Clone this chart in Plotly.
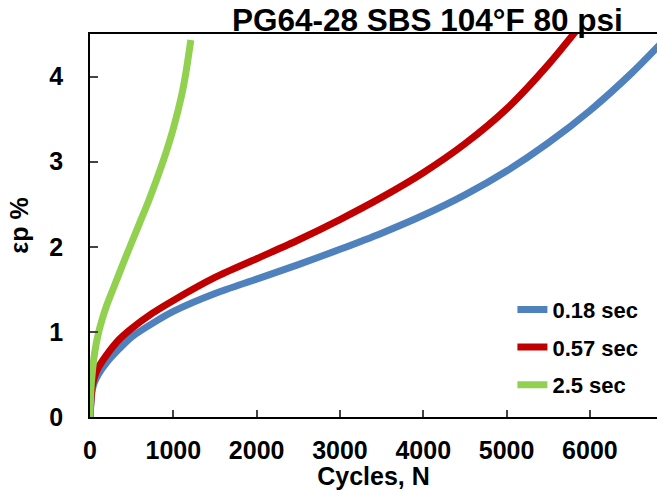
import plotly.graph_objects as go

# ---- data ----
series_names = ["0.18 sec", "0.57 sec", "2.5 sec"]
series_colors = ["#4F81BD", "#C00000", "#92D050"]

cycles_018 = [0, 25, 50, 100, 200, 350, 500, 750, 1000, 1500, 2000, 2500, 3000,
              3500, 4000, 4500, 5000, 5500, 6000, 6500, 7000]
strain_018 = [0, 0.30, 0.40, 0.50, 0.64, 0.80, 0.94, 1.10, 1.24, 1.45, 1.62, 1.79, 1.97,
              2.16, 2.37, 2.61, 2.89, 3.22, 3.60, 4.04, 4.54]

cycles_057 = [0, 25, 50, 100, 200, 350, 500, 750, 1000, 1500, 2000, 2500, 3000,
              3500, 4000, 4500, 5000, 5500, 6000]
strain_057 = [0, 0.35, 0.46, 0.58, 0.73, 0.91, 1.04, 1.22, 1.37, 1.64, 1.86, 2.08, 2.32,
              2.58, 2.87, 3.21, 3.62, 4.14, 4.74]

cycles_25 = [0, 10, 30, 60, 100, 150, 200, 300, 400, 500, 600, 700, 800, 900, 1000, 1100, 1150, 1210]
strain_25 = [0, 0.30, 0.55, 0.78, 0.98, 1.16, 1.31, 1.56, 1.81, 2.05, 2.29, 2.53, 2.79, 3.07, 3.39, 3.78, 4.04, 4.43]

x_ticks = [0, 1000, 2000, 3000, 4000, 5000, 6000]
y_ticks = [0, 1, 2, 3, 4]

title_text = "PG64-28 SBS 104°F 80 psi"
x_title = "Cycles, N"
y_title = "εp %"

FONT = "Liberation Sans, Arial, sans-serif"

fig = go.Figure()
for name, color, xs, ys in zip(series_names, series_colors,
                               [cycles_018, cycles_057, cycles_25],
                               [strain_018, strain_057, strain_25]):
    fig.add_trace(go.Scatter(
        x=xs, y=ys, mode="lines", name=name, legendgroup=name,
        line=dict(color=color, width=7, shape="spline", smoothing=0.8),
    ))

fig.update_layout(
    width=657, height=490,
    margin=dict(l=90, r=0, t=34, b=73),
    paper_bgcolor="white", plot_bgcolor="white",
    font=dict(family=FONT, size=25, color="black", weight="bold"),
    title=dict(text=title_text, x=0.595, xref="paper", xanchor="center",
               y=1 - 20 / 490, yref="container", yanchor="middle",
               font=dict(family=FONT, size=31.5, color="black", weight="bold")),
    showlegend=True,
    legend=dict(x=0.745, y=0.335, xanchor="left", yanchor="top",
                bgcolor="rgba(0,0,0,0)", traceorder="grouped", tracegroupgap=6,
                font=dict(family=FONT, size=22, color="black", weight="bold")),
    xaxis=dict(range=[0, 6805], tickvals=x_ticks, ticks="inside", ticklen=7, tickwidth=1.5,
               showline=True, linecolor="black", linewidth=1.5, mirror=True,
               showgrid=False, zeroline=False, ticklabelstandoff=10,
               title=dict(text=x_title, standoff=0,
                          font=dict(family=FONT, size=25, color="black", weight="bold"))),
    yaxis=dict(range=[0, 4.5], tickvals=y_ticks, ticks="inside", ticklen=8, tickwidth=1.5,
               showline=True, linecolor="black", linewidth=1.5, mirror=False,
               showgrid=False, zeroline=False, ticklabelstandoff=20,
               title=dict(text=y_title, standoff=14,
                          font=dict(family=FONT, size=25, color="black", weight="bold"))),
)

fig.write_html("out.html")
